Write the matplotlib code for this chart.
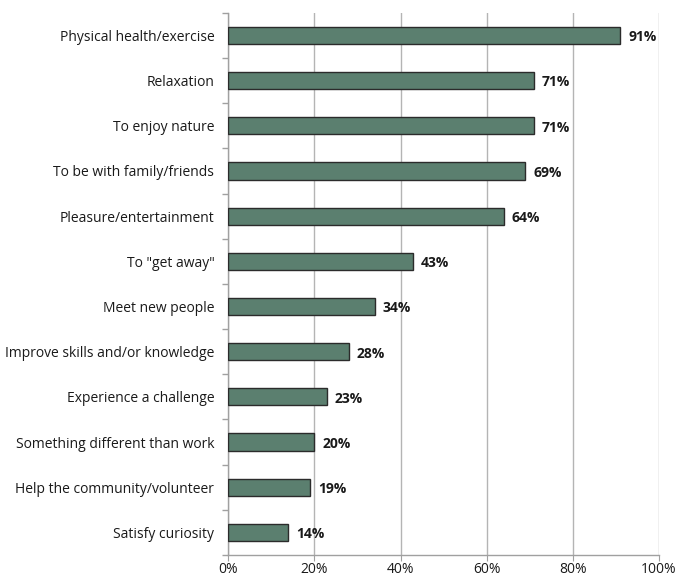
import matplotlib.pyplot as plt
from matplotlib.ticker import FixedLocator, PercentFormatter

plt.rcParams["font.family"] = ["Open Sans", "DejaVu Sans"]

reasons = ["Physical health/exercise", "Relaxation", "To enjoy nature",
           "To be with family/friends", "Pleasure/entertainment", 'To "get away"',
           "Meet new people", "Improve skills and/or knowledge",
           "Experience a challenge", "Something different than work",
           "Help the community/volunteer", "Satisfy curiosity"]
shares = [91, 71, 71, 69, 64, 43, 34, 28, 23, 20, 19, 14]

fig = plt.figure(figsize=(6.79, 5.80), dpi=100)
ax = fig.add_axes([0.336, 0.043, 0.6346, 0.935])

ypos = list(range(len(reasons)))
ax.barh(ypos, shares, height=0.38, color="#5b7f6f", edgecolor="#2b2b2b",
        linewidth=1.0, zorder=3)
for y, v in zip(ypos, shares):
    ax.text(v + 1.8, y + 0.04, f"{v}%", va="center", ha="left", fontsize=10,
            fontweight="bold", color="#1a1a1a", zorder=4)

ax.set_ylim(len(reasons) - 0.5, -0.5)
ax.set_xlim(0, 100)
ax.set_yticks(ypos)
ax.set_yticklabels(reasons, fontsize=10, color="#1a1a1a")
ax.tick_params(axis="y", which="major", length=0, pad=10)
ax.yaxis.set_minor_locator(FixedLocator([i - 0.5 for i in range(len(reasons) + 1)]))
ax.tick_params(axis="y", which="minor", length=4, color="#a0a0a0", width=1)

ax.set_xticks(range(0, 101, 20))
ax.xaxis.set_major_formatter(PercentFormatter(decimals=0))
ax.tick_params(axis="x", length=4, color="#a0a0a0", labelsize=10,
               labelcolor="#1a1a1a", pad=1)
ax.grid(axis="x", color="#b4b4b4", linewidth=1, zorder=0)

for side in ["top", "right"]:
    ax.spines[side].set_visible(False)
for side in ["left", "bottom"]:
    ax.spines[side].set_color("#a0a0a0")
    ax.spines[side].set_linewidth(1)

fig.savefig("out.png", dpi=100)
